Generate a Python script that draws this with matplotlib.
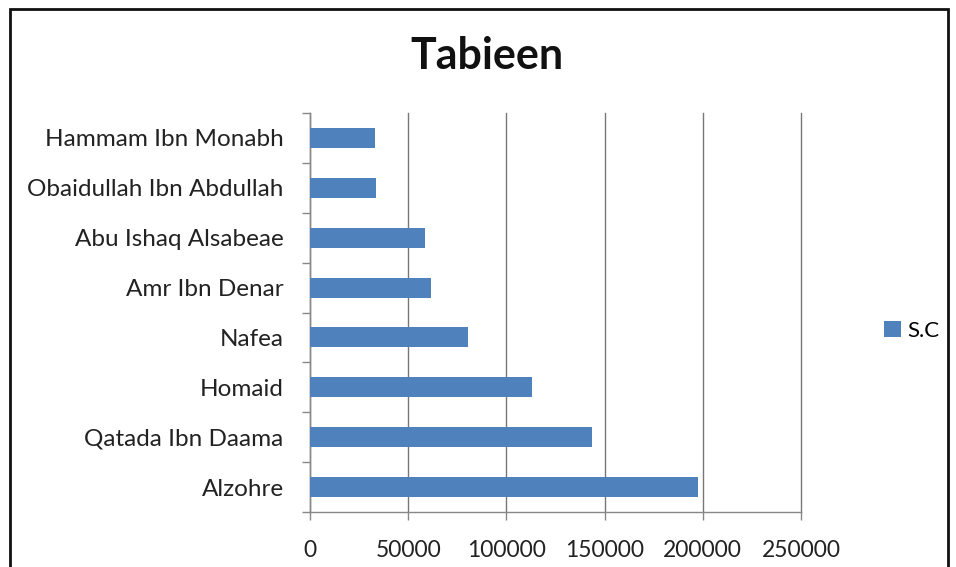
import matplotlib.pyplot as plt
import numpy as np
from matplotlib.patches import Rectangle

# number of narrations per tabi'i
names = ['Hammam Ibn Monabh', 'Obaidullah Ibn Abdullah', 'Abu Ishaq Alsabeae',
         'Amr Ibn Denar', 'Nafea', 'Homaid', 'Qatada Ibn Daama', 'Alzohre']
sc = [32900, 33800, 58300, 61400, 80500, 113200, 143700, 197500]
xticks = [0, 50000, 100000, 150000, 200000, 250000]

plt.rcParams['font.family'] = ['Lato', 'DejaVu Sans']

fig = plt.figure(figsize=(9.56, 5.67), dpi=100)
ax = fig.add_axes([310/956, 1 - 512/567, 491/956, 399/567])

pos = np.arange(len(names))
ax.barh(pos, sc, height=0.4, color='#4F81BD', label='S.C', zorder=3)

ax.set_xlim(0, 250000)
ax.set_ylim(len(names) - 0.5, -0.5)
ax.set_xticks(xticks)
ax.set_xticklabels([str(t) for t in xticks], fontsize=16.5, color='#222222')
ax.set_yticks(pos)
ax.set_yticklabels(names, fontsize=17.5, color='#222222')
# tick marks sit between categories
ax.set_yticks(np.arange(-0.5, len(names)), minor=True)
ax.tick_params(axis='y', which='major', length=0, pad=19)
ax.tick_params(axis='y', which='minor', length=6, color='#888888', width=1)
ax.tick_params(axis='x', length=6, color='#888888', width=1, pad=14)

ax.grid(axis='x', color='#777777', linewidth=1, zorder=0)
for g in ax.xaxis.get_gridlines():
    g.set_clip_on(False)
for s in ['top', 'right']:
    ax.spines[s].set_visible(False)
for s in ['left', 'bottom']:
    ax.spines[s].set_color('#888888')
    ax.spines[s].set_linewidth(1)

fig.text(487/956, 1 - 56/567, 'Tabieen', fontsize=31, fontweight='bold',
         ha='center', va='center', color='#111111')

fig.legend(loc='center left', bbox_to_anchor=(884/956, 1 - 331/567), frameon=False,
           fontsize=16, handlelength=0.75, handleheight=0.75, handletextpad=0.3,
           borderpad=0, borderaxespad=0)

# outer chart frame
fig.patches.append(Rectangle((10/956, -0.1), 938/956, 1.1 - 9/567, transform=fig.transFigure,
                             fill=False, edgecolor='#111111', linewidth=2))

fig.savefig('out.png', dpi=100)
